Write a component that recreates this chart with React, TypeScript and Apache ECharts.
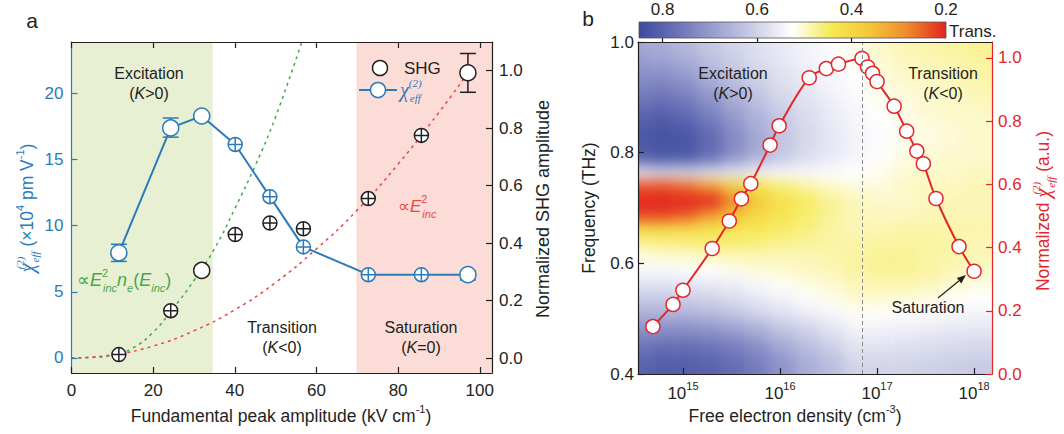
import React, { useEffect, useRef } from 'react';
import * as echarts from 'echarts';

const FONT = '"Liberation Sans", Arial, Helvetica, sans-serif';
const SERIF = '"Liberation Serif", "Times New Roman", serif';
const INK = '#231f20';
const BLUE = '#2b7bba';
const RED = '#e3262a';
const GREEN = '#45a84a';
const FITRED = '#ee4444';

// ---------- Panel a data ----------
const fieldKV = [11.6, 24.3, 31.9, 40.1, 48.6, 56.8, 72.7, 85.7, 97.1];
const chiEff = [7.95, 17.4, 18.3, 16.15, 12.2, 8.4, 6.3, 6.3, 6.3];
const chiErrLow = [7.3, 16.7, null, null, null, null, null, null, 5.9];
const chiErrHigh = [8.6, 18.15, null, null, null, null, null, null, 6.6];
const chiCrossed = [false, false, false, true, true, true, true, true, false];
const shgAmp = [0.012, 0.165, 0.305, 0.43, 0.47, 0.45, 0.555, 0.775, 0.993];
const shgErrLow = [null, null, null, null, null, null, null, null, 0.925];
const shgErrHigh = [null, null, null, null, null, null, null, null, 1.06];
const shgCrossed = [true, true, false, true, true, true, true, true, false];
const neFitKV = [0, 5, 10, 15, 20, 25, 30, 35, 40, 45, 50, 56.4];
const neFitAmp = [0, 0.002, 0.01, 0.035, 0.09, 0.175, 0.27, 0.38, 0.52, 0.67, 0.84, 1.1];
const sqFitKV = [0, 10, 20, 30, 40, 50, 60, 70, 80, 90, 97];
const sqFitAmp = [0, 0.011, 0.042, 0.095, 0.168, 0.263, 0.38, 0.515, 0.675, 0.855, 0.99];
const excitationRange = [0, 34.6];
const saturationRange = [69.8, 103];
const aXTicks = [0, 20, 40, 60, 80, 100];
const aLeftTicks = [0, 5, 10, 15, 20];
const aRightTicks = [0, 0.2, 0.4, 0.6, 0.8, 1.0];

// ---------- Panel b data ----------
const densityCm3 = [4.9e14, 7.9e14, 1.0e15, 2.0e15, 3.0e15, 4.0e15, 5.0e15, 7.9e15, 9.8e15, 2.0e16, 3.0e16, 4.0e16, 7.0e16, 8.0e16, 9.0e16, 1.0e17, 1.5e17, 2.02e17, 2.57e17, 3.0e17, 4.05e17, 7.0e17, 1.0e18];
const chiNorm = [0.15, 0.22, 0.265, 0.397, 0.484, 0.554, 0.602, 0.724, 0.785, 0.937, 0.966, 0.98, 0.998, 0.971, 0.951, 0.925, 0.847, 0.768, 0.705, 0.665, 0.555, 0.403, 0.325];
const peakDensity = 7.0e16;
const bXTicks = [1e15, 1e16, 1e17, 1e18];
const bRightTicks = [0, 0.2, 0.4, 0.6, 0.8, 1.0];
const colorbarTicks = [0.8, 0.6, 0.4, 0.2];

// transmission map: columns = log10(density) bin centres, rows = frequency (THz), top to bottom
const mapDensityExp = [14.275, 14.525, 14.775, 15.025, 15.275, 15.525, 15.775, 16.025, 16.275, 16.525, 16.775, 17.025, 17.275, 17.525, 17.775, 18.025, 18.275, 18.525];
const mapFreqs = [1.0375, 1.0125, 0.9875, 0.9625, 0.9375, 0.9125, 0.8875, 0.8625, 0.8375, 0.8125, 0.7875, 0.7625, 0.7375, 0.7125, 0.6875, 0.6625, 0.6375, 0.6125, 0.5875, 0.5625, 0.5375, 0.5125, 0.4875, 0.4625, 0.4375, 0.4125, 0.3875, 0.3625];
const transRows = [
  [0.67, 0.67, 0.66, 0.64, 0.615, 0.595, 0.575, 0.56, 0.545, 0.53, 0.515, 0.50, 0.49, 0.485, 0.48, 0.475, 0.47, 0.47],
  [0.67, 0.67, 0.66, 0.64, 0.615, 0.595, 0.575, 0.56, 0.545, 0.53, 0.515, 0.50, 0.49, 0.485, 0.48, 0.475, 0.47, 0.47],
  [0.68, 0.68, 0.67, 0.65, 0.62, 0.60, 0.58, 0.56, 0.545, 0.53, 0.515, 0.50, 0.49, 0.485, 0.48, 0.475, 0.47, 0.47],
  [0.70, 0.70, 0.69, 0.67, 0.64, 0.61, 0.585, 0.565, 0.55, 0.535, 0.52, 0.505, 0.495, 0.49, 0.485, 0.48, 0.475, 0.475],
  [0.72, 0.72, 0.72, 0.70, 0.66, 0.625, 0.60, 0.575, 0.555, 0.54, 0.525, 0.51, 0.50, 0.495, 0.49, 0.485, 0.48, 0.48],
  [0.74, 0.74, 0.75, 0.73, 0.69, 0.65, 0.615, 0.585, 0.565, 0.545, 0.53, 0.515, 0.505, 0.50, 0.495, 0.49, 0.485, 0.485],
  [0.77, 0.77, 0.78, 0.76, 0.72, 0.675, 0.635, 0.60, 0.575, 0.555, 0.535, 0.52, 0.51, 0.50, 0.50, 0.495, 0.49, 0.49],
  [0.80, 0.80, 0.81, 0.79, 0.75, 0.70, 0.655, 0.615, 0.585, 0.56, 0.54, 0.525, 0.515, 0.505, 0.50, 0.50, 0.50, 0.50],
  [0.82, 0.82, 0.83, 0.82, 0.78, 0.72, 0.67, 0.625, 0.59, 0.565, 0.545, 0.53, 0.515, 0.51, 0.505, 0.50, 0.50, 0.50],
  [0.82, 0.82, 0.83, 0.83, 0.79, 0.73, 0.675, 0.625, 0.59, 0.565, 0.545, 0.53, 0.515, 0.51, 0.505, 0.50, 0.50, 0.50],
  [0.79, 0.79, 0.81, 0.80, 0.76, 0.70, 0.65, 0.61, 0.58, 0.56, 0.54, 0.525, 0.51, 0.505, 0.50, 0.50, 0.50, 0.50],
  [0.57, 0.57, 0.59, 0.59, 0.58, 0.565, 0.55, 0.54, 0.535, 0.53, 0.525, 0.515, 0.505, 0.50, 0.50, 0.495, 0.495, 0.495],
  [0.24, 0.24, 0.24, 0.26, 0.31, 0.38, 0.43, 0.46, 0.48, 0.50, 0.51, 0.51, 0.50, 0.495, 0.495, 0.49, 0.49, 0.49],
  [0.16, 0.16, 0.16, 0.17, 0.20, 0.28, 0.37, 0.42, 0.45, 0.475, 0.49, 0.50, 0.50, 0.495, 0.49, 0.49, 0.49, 0.49],
  [0.22, 0.22, 0.22, 0.24, 0.29, 0.35, 0.40, 0.43, 0.455, 0.475, 0.49, 0.495, 0.495, 0.49, 0.49, 0.49, 0.49, 0.49],
  [0.39, 0.39, 0.39, 0.40, 0.42, 0.43, 0.44, 0.45, 0.465, 0.48, 0.49, 0.49, 0.485, 0.485, 0.485, 0.485, 0.485, 0.485],
  [0.47, 0.47, 0.465, 0.46, 0.455, 0.455, 0.46, 0.47, 0.475, 0.48, 0.485, 0.48, 0.48, 0.48, 0.485, 0.49, 0.49, 0.49],
  [0.51, 0.51, 0.505, 0.50, 0.495, 0.49, 0.49, 0.49, 0.49, 0.485, 0.48, 0.475, 0.475, 0.48, 0.485, 0.49, 0.49, 0.49],
  [0.535, 0.535, 0.535, 0.53, 0.525, 0.515, 0.505, 0.50, 0.495, 0.49, 0.48, 0.475, 0.475, 0.48, 0.49, 0.50, 0.50, 0.50],
  [0.57, 0.57, 0.57, 0.565, 0.56, 0.55, 0.535, 0.52, 0.51, 0.50, 0.49, 0.485, 0.485, 0.49, 0.50, 0.51, 0.51, 0.51],
  [0.61, 0.61, 0.61, 0.605, 0.595, 0.58, 0.56, 0.545, 0.53, 0.515, 0.50, 0.50, 0.505, 0.51, 0.52, 0.525, 0.525, 0.525],
  [0.65, 0.65, 0.65, 0.645, 0.635, 0.615, 0.59, 0.57, 0.55, 0.535, 0.52, 0.52, 0.525, 0.53, 0.535, 0.54, 0.54, 0.54],
  [0.70, 0.70, 0.70, 0.70, 0.69, 0.67, 0.645, 0.61, 0.59, 0.565, 0.54, 0.54, 0.545, 0.55, 0.555, 0.56, 0.56, 0.56],
  [0.74, 0.74, 0.75, 0.75, 0.74, 0.72, 0.69, 0.65, 0.62, 0.59, 0.56, 0.56, 0.565, 0.57, 0.575, 0.58, 0.58, 0.58],
  [0.78, 0.78, 0.79, 0.79, 0.78, 0.76, 0.73, 0.69, 0.65, 0.62, 0.58, 0.58, 0.585, 0.59, 0.595, 0.60, 0.60, 0.60],
  [0.80, 0.80, 0.81, 0.81, 0.80, 0.78, 0.75, 0.71, 0.67, 0.64, 0.60, 0.60, 0.60, 0.605, 0.61, 0.615, 0.615, 0.615],
  [0.80, 0.80, 0.81, 0.81, 0.80, 0.78, 0.75, 0.71, 0.67, 0.64, 0.60, 0.60, 0.60, 0.605, 0.61, 0.615, 0.615, 0.615],
  [0.80, 0.80, 0.81, 0.81, 0.80, 0.78, 0.75, 0.71, 0.67, 0.64, 0.60, 0.60, 0.60, 0.605, 0.61, 0.615, 0.615, 0.615],
];
const transRange = [0.2, 0.85];
// colour map from low transmission (red) to high (blue)
const TRANS_COLORS = ['#e3241f', '#ef8a2c', '#f4c73a', '#f6ea55', '#ffffff', '#cdcfe7', '#9ca1d1', '#6b72b7', '#3a4a9e'];

// map geometry (pixels of the plot area of panel b)
const MAP_PX_PER_DECADE = 354 / 3.65;
const MAP_PX_PER_THZ = 332 / 0.6;

const CROSS_SYMBOL = 'path://M0,-10A10,10,0,1,1,0,10A10,10,0,1,1,0,-10ZM-10,0L10,0M0,-10L0,10';

function richFor(color: string, size = 17) {
  const base = { color, fill: color };
  return {
    m: { ...base, fontFamily: FONT, fontSize: size, lineHeight: 26, verticalAlign: 'middle' },
    i: { ...base, fontFamily: FONT, fontSize: size, fontStyle: 'italic', lineHeight: 26, verticalAlign: 'middle' },
    chi: { ...base, fontFamily: SERIF, fontSize: size + 3, fontStyle: 'italic', lineHeight: 26, verticalAlign: 'middle' },
    cs: { ...base, fontFamily: SERIF, fontSize: 11, fontStyle: 'italic', verticalAlign: 'top', width: 1 },
    ce: { ...base, fontFamily: SERIF, fontSize: 11, fontStyle: 'italic', verticalAlign: 'bottom' },
    ss: { ...base, fontFamily: FONT, fontSize: 11, verticalAlign: 'top', width: 1 },
    sb: { ...base, fontFamily: FONT, fontSize: 11, fontStyle: 'italic', verticalAlign: 'bottom' },
    sp: { ...base, fontFamily: FONT, fontSize: 11, verticalAlign: 'top' },
  };
}

function txt(x: number, y: number, text: string, color = INK, size = 17, align = 'center', rotation = 0) {
  return {
    type: 'text',
    x,
    y,
    rotation,
    z: 100,
    style: {
      text,
      fill: color,
      fontFamily: FONT,
      fontSize: size,
      align,
      verticalAlign: 'middle',
      textAlign: align,
      textVerticalAlign: 'middle',
      rich: richFor(color, size),
    },
  };
}

function errorBarSeries(yAxisIndex: number, color: string, xs: number[], lo: (number | null)[], hi: (number | null)[]) {
  const data: number[][] = [];
  xs.forEach((x, i) => {
    if (lo[i] != null && hi[i] != null) data.push([x, lo[i] as number, hi[i] as number]);
  });
  return {
    type: 'custom',
    xAxisIndex: 0,
    yAxisIndex,
    z: 2,
    silent: true,
    data,
    renderItem: (params: any, api: any) => {
      const x = api.value(0);
      const pLo = api.coord([x, api.value(1)]);
      const pHi = api.coord([x, api.value(2)]);
      const cap = 8;
      const style = { stroke: color, lineWidth: 1.5 };
      return {
        type: 'group',
        children: [
          { type: 'line', shape: { x1: pLo[0], y1: pLo[1], x2: pHi[0], y2: pHi[1] }, style },
          { type: 'line', shape: { x1: pLo[0] - cap, y1: pLo[1], x2: pLo[0] + cap, y2: pLo[1] }, style },
          { type: 'line', shape: { x1: pHi[0] - cap, y1: pHi[1], x2: pHi[0] + cap, y2: pHi[1] }, style },
        ],
      };
    },
  };
}

function buildMainOption() {
  const axisLine = (color: string) => ({ show: true, onZero: false, lineStyle: { color, width: 1.2 } });
  const ticks = (values: number[] | undefined, color: string, length = 6) => ({
    show: true,
    inside: true,
    length,
    ...(values ? { customValues: values } : {}),
    lineStyle: { color, width: 1.2 },
  });
  const labels = (values: number[] | undefined, color: string, margin: number, formatter?: any, rich?: any) => ({
    show: true,
    ...(values ? { customValues: values } : {}),
    color,
    fontSize: 17,
    fontFamily: FONT,
    margin,
    ...(formatter ? { formatter } : {}),
    ...(rich ? { rich } : {}),
  });
  const fix1 = (v: number) => v.toFixed(1);

  const cbStops = TRANS_COLORS.slice().reverse().map((c, i, arr) => ({ offset: i / (arr.length - 1), color: c }));

  const arrowTail = [938, 298];
  const arrowTip = [966, 275];
  const dx = arrowTip[0] - arrowTail[0];
  const dy = arrowTip[1] - arrowTail[1];
  const len = Math.hypot(dx, dy);
  const ux = dx / len, uy = dy / len;
  const hb = [arrowTip[0] - 9 * ux, arrowTip[1] - 9 * uy];
  const nx = -uy, ny = ux;

  return {
    animation: false,
    textStyle: { fontFamily: FONT },
    grid: [
      { left: 71.5, top: 42, width: 420.5, height: 331 },
      { left: 638, top: 42, width: 354, height: 332 },
      { left: 639, top: 22, width: 307, height: 16 },
    ],
    xAxis: [
      {
        gridIndex: 0, type: 'value', min: 0, max: 103, position: 'bottom', z: 10,
        axisLine: axisLine(INK), axisTick: ticks(aXTicks, INK), axisLabel: labels(aXTicks, INK, 9),
        splitLine: { show: false },
      },
      {
        gridIndex: 0, type: 'value', min: 0, max: 103, position: 'top', z: 10,
        axisLine: axisLine(INK), axisTick: ticks(aXTicks, INK), axisLabel: { show: false },
        splitLine: { show: false },
      },
      {
        gridIndex: 1, type: 'log', logBase: 10, min: 3.44e14, max: 1.53e18, position: 'bottom', z: 10,
        axisLine: axisLine(INK), axisTick: ticks(bXTicks, INK), minorTick: { show: false },
        axisLabel: labels(bXTicks, INK, 6, (v: number) => `{m|10}{sp|${Math.round(Math.log10(v))}}`, richFor(INK, 17)),
        splitLine: { show: false },
      },
      {
        gridIndex: 1, type: 'log', logBase: 10, min: 3.44e14, max: 1.53e18, position: 'top', z: 10,
        axisLine: axisLine(INK), axisTick: { show: false }, axisLabel: { show: false }, minorTick: { show: false },
        splitLine: { show: false },
      },
      {
        gridIndex: 2, type: 'value', min: transRange[0], max: transRange[1], inverse: true, position: 'top', z: 10,
        axisLine: { show: false }, axisTick: ticks([0.8, 0.6, 0.4], INK, 4),
        axisLabel: labels(colorbarTicks, INK, 4, fix1),
        splitLine: { show: false },
      },
    ],
    yAxis: [
      {
        gridIndex: 0, type: 'value', min: -1.14, max: 23.9, position: 'left', z: 10,
        axisLine: axisLine(BLUE), axisTick: ticks(aLeftTicks, BLUE), axisLabel: labels(aLeftTicks, BLUE, 8),
        splitLine: { show: false },
      },
      {
        gridIndex: 0, type: 'value', min: -0.052, max: 1.1, position: 'right', z: 10,
        axisLine: axisLine(INK), axisTick: ticks(aRightTicks, INK), axisLabel: labels(aRightTicks, INK, 7, fix1),
        splitLine: { show: false },
      },
      {
        gridIndex: 1, type: 'value', min: 0.4, max: 1.0, interval: 0.2, position: 'left', z: 10,
        axisLine: axisLine(INK), axisTick: ticks(undefined, INK), axisLabel: labels(undefined, INK, 4, fix1),
        splitLine: { show: false },
      },
      {
        gridIndex: 1, type: 'value', min: 0, max: 1.05, position: 'right', z: 10,
        axisLine: axisLine(RED), axisTick: ticks(bRightTicks, RED), axisLabel: labels(bRightTicks, RED, 6, fix1),
        splitLine: { show: false },
      },
      { gridIndex: 2, type: 'value', min: 0, max: 1, show: false },
    ],
    series: [
      {
        type: 'line', name: 'fit-ne', xAxisIndex: 0, yAxisIndex: 1, smooth: true, showSymbol: false, symbol: 'none',
        data: neFitKV.map((x, i) => [x, neFitAmp[i]]), z: 1, silent: true,
        lineStyle: { color: GREEN, width: 1.5, type: [3, 4] },
        markArea: {
          silent: true,
          data: [
            [{ xAxis: excitationRange[0], itemStyle: { color: '#e8f0d3' } }, { xAxis: excitationRange[1] }],
            [{ xAxis: saturationRange[0], itemStyle: { color: '#fcdcd7' } }, { xAxis: saturationRange[1] }],
          ],
        },
      },
      {
        type: 'line', name: 'fit-sq', xAxisIndex: 0, yAxisIndex: 1, smooth: true, showSymbol: false, symbol: 'none',
        data: sqFitKV.map((x, i) => [x, sqFitAmp[i]]), z: 1, silent: true,
        lineStyle: { color: FITRED, width: 1.5, type: [3, 4] },
      },
      errorBarSeries(0, BLUE, fieldKV, chiErrLow, chiErrHigh),
      errorBarSeries(1, INK, fieldKV, shgErrLow, shgErrHigh),
      {
        type: 'line', name: 'chi_eff', xAxisIndex: 0, yAxisIndex: 0, z: 3,
        data: fieldKV.map((x, i) => ({
          value: [x, chiEff[i]],
          symbol: chiCrossed[i] ? CROSS_SYMBOL : 'circle',
          symbolSize: chiCrossed[i] ? 14 : 16,
        })),
        showAllSymbol: true,
        lineStyle: { color: BLUE, width: 2 },
        itemStyle: { color: '#ffffff', borderColor: BLUE, borderWidth: 1.5 },
      },
      {
        type: 'scatter', name: 'SHG', xAxisIndex: 0, yAxisIndex: 1, z: 3,
        data: fieldKV.map((x, i) => ({
          value: [x, shgAmp[i]],
          symbol: shgCrossed[i] ? CROSS_SYMBOL : 'circle',
          symbolSize: shgCrossed[i] ? 14 : 16,
        })),
        itemStyle: { color: '#ffffff', borderColor: INK, borderWidth: 1.5, opacity: 1 },
      },
      {
        type: 'line', name: 'peak', xAxisIndex: 2, yAxisIndex: 3, data: [], z: 1, silent: true,
        markLine: {
          silent: true, symbol: 'none', label: { show: false },
          lineStyle: { color: '#8c8c8c', width: 1, type: [4, 3] },
          data: [{ xAxis: peakDensity }],
        },
      },
      {
        type: 'line', name: 'chi_norm', xAxisIndex: 2, yAxisIndex: 3, z: 3, smooth: 0.35,
        data: densityCm3.map((x, i) => [x, chiNorm[i]]),
        symbol: 'circle', symbolSize: 14, showAllSymbol: true,
        lineStyle: { color: RED, width: 2 },
        itemStyle: { color: '#ffffff', borderColor: RED, borderWidth: 1.5 },
      },
    ],
    graphic: [
      // colour bar
      {
        type: 'rect', z: 1, shape: { x: 639, y: 22, width: 307, height: 16 },
        style: { fill: new echarts.graphic.LinearGradient(0, 0, 1, 0, cbStops), stroke: '#555', lineWidth: 0.8 },
      },
      txt(949, 31, 'Trans.', INK, 17, 'left'),
      // panel labels
      txt(32, 20, 'a', INK, 21),
      txt(588, 18, 'b', INK, 21),
      // panel a annotations
      txt(149, 73, 'Excitation', INK, 16),
      txt(149, 93, '{m|(}{i|K}{m|>0)}', INK, 16),
      txt(282, 327, 'Transition', INK, 16),
      txt(282, 347, '{m|(}{i|K}{m|<0)}', INK, 16),
      txt(421, 327, 'Saturation', INK, 16),
      txt(421, 347, '{m|(}{i|K}{m|=0)}', INK, 16),
      // legend
      { type: 'circle', z: 100, shape: { cx: 380, cy: 68, r: 7.5 }, style: { fill: '#fff', stroke: INK, lineWidth: 1.5 } },
      txt(404, 68, 'SHG', INK, 17, 'left'),
      { type: 'line', z: 99, shape: { x1: 359, y1: 90, x2: 397, y2: 90 }, style: { stroke: BLUE, lineWidth: 2 } },
      { type: 'circle', z: 100, shape: { cx: 378, cy: 90, r: 7.5 }, style: { fill: '#fff', stroke: BLUE, lineWidth: 1.5 } },
      txt(400, 90, '{chi|χ}{cs|(2)}{ce|eff}', BLUE, 17, 'left'),
      // fit labels
      txt(398, 206, '{m|∝}{i|E}{ss|2}{sb|inc}', FITRED, 17, 'left'),
      txt(77, 280, '{m|∝}{i|E}{ss|2}{sb|inc}{i|n}{sb|e}{m|(}{i|E}{sb|inc}{m|)}', GREEN, 18, 'left'),
      // axis titles panel a
      txt(27, 208, '{chi|χ}{cs|(2)}{ce|eff}{m| (×10}{sp|4}{m| pm V}{sp|-1}{m|)}', BLUE, 17.5, 'center', Math.PI / 2),
      txt(543, 209, 'Normalized SHG amplitude', INK, 18, 'center', Math.PI / 2),
      txt(281, 416, '{m|Fundamental peak amplitude (kV cm}{sp|-1}{m|)}', INK, 17.5),
      // panel b annotations
      txt(733, 73, 'Excitation', INK, 16),
      txt(733, 93, '{m|(}{i|K}{m|>0)}', INK, 16),
      txt(943, 73, 'Transition', INK, 16),
      txt(943, 93, '{m|(}{i|K}{m|<0)}', INK, 16),
      txt(928, 307, 'Saturation', INK, 16),
      { type: 'line', z: 100, shape: { x1: arrowTail[0], y1: arrowTail[1], x2: hb[0], y2: hb[1] }, style: { stroke: INK, lineWidth: 1.2 } },
      {
        type: 'polygon', z: 100,
        shape: { points: [arrowTip, [hb[0] + 3.5 * nx, hb[1] + 3.5 * ny], [hb[0] - 3.5 * nx, hb[1] - 3.5 * ny]] },
        style: { fill: INK },
      },
      // axis titles panel b
      txt(589, 208, 'Frequency (THz)', INK, 17.5, 'center', Math.PI / 2),
      txt(795, 416, '{m|Free electron density (cm}{sp|-3}{m|)}', INK, 17.5),
      txt(1043, 211, '{m|Normalized }{chi|χ}{cs|(2)}{ce|eff}{m| (a.u.)}', RED, 17.5, 'center', Math.PI / 2),
    ],
  };
}

function buildMapOption() {
  const nRows = mapFreqs.length;
  const data: number[][] = [];
  transRows.forEach((row, r) => {
    row.forEach((v, c) => data.push([c, nRows - 1 - r, v]));
  });
  return {
    animation: false,
    grid: { left: 0, right: 0, top: 0, bottom: 0 },
    xAxis: { type: 'category', data: mapDensityExp.map(String), show: false },
    yAxis: { type: 'category', data: mapFreqs.slice().reverse().map(String), show: false },
    visualMap: { show: false, min: transRange[0], max: transRange[1], dimension: 2, inRange: { color: TRANS_COLORS } },
    series: [{ type: 'heatmap', data, silent: true, itemStyle: { borderWidth: 0 } }],
  };
}

// placement of the map layer so its bins line up with panel b's axes
const mapStep = mapDensityExp[1] - mapDensityExp[0];
const freqStep = mapFreqs[0] - mapFreqs[1];
const mapLeft = -((14.536 - (mapDensityExp[0] - mapStep / 2)) * MAP_PX_PER_DECADE);
const mapWidth = mapDensityExp.length * mapStep * MAP_PX_PER_DECADE;
const mapTop = -(((mapFreqs[0] + freqStep / 2) - 1.0) * MAP_PX_PER_THZ);
const mapHeight = mapFreqs.length * freqStep * MAP_PX_PER_THZ;

export default function App() {
  const mainRef = useRef<HTMLDivElement>(null);
  const mapRef = useRef<HTMLDivElement>(null);
  useEffect(() => {
    const map = echarts.init(mapRef.current as HTMLDivElement, null, { renderer: 'svg' });
    map.setOption(buildMapOption() as any);
    const main = echarts.init(mainRef.current as HTMLDivElement, null, { renderer: 'svg' });
    main.setOption(buildMainOption() as any);
    return () => {
      main.dispose();
      map.dispose();
    };
  }, []);
  return (
    <div style={{ position: 'fixed', left: 0, top: 0, width: 1064, height: 434, background: '#fff', overflow: 'hidden' }}>
      <div style={{ position: 'absolute', left: 638, top: 42, width: 354, height: 332, overflow: 'hidden' }}>
        <div ref={mapRef} style={{ position: 'absolute', left: mapLeft, top: mapTop, width: mapWidth, height: mapHeight, filter: 'blur(7px)' }} />
      </div>
      <div ref={mainRef} style={{ position: 'absolute', left: 0, top: 0, width: 1064, height: 434 }} />
    </div>
  );
}
